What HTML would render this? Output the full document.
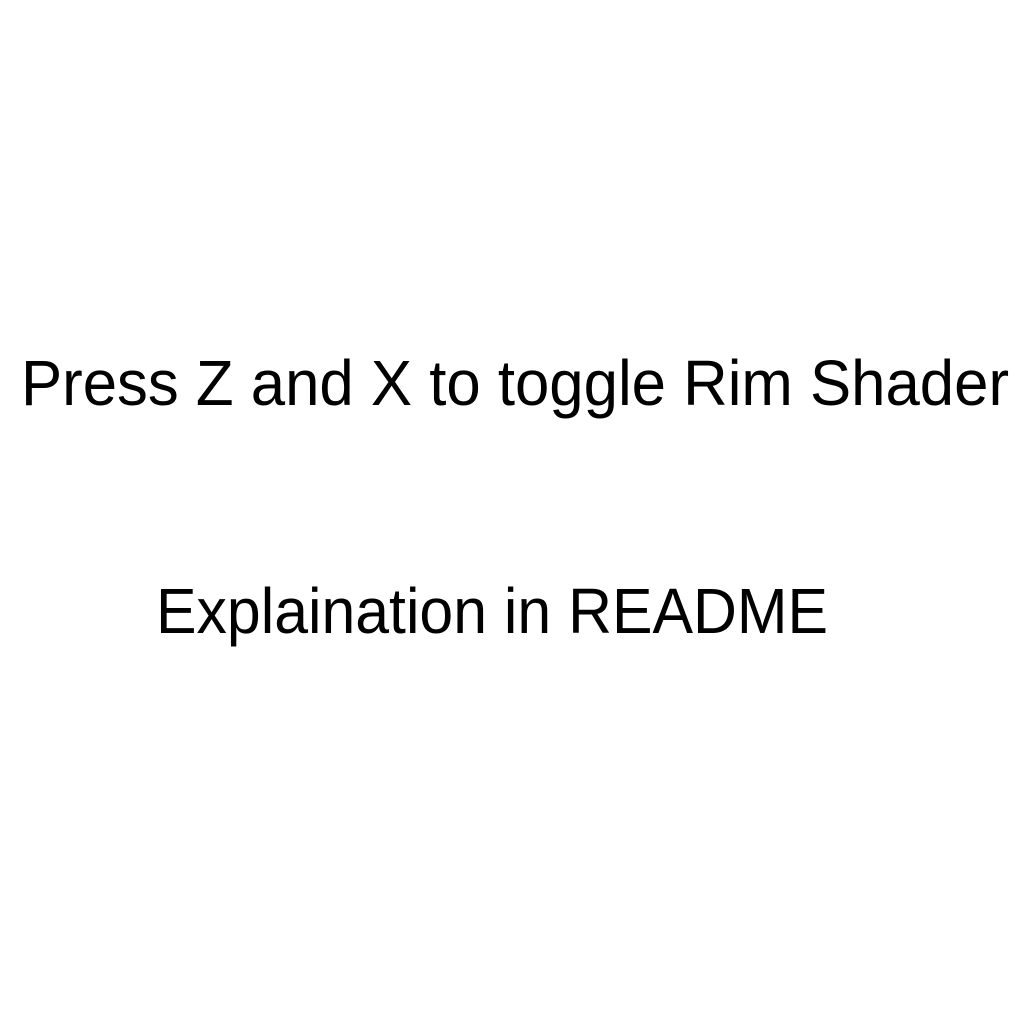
<!DOCTYPE html>
<html><head><meta charset="utf-8"><style>
html,body{margin:0;padding:0;background:#fff;width:1024px;height:1024px;overflow:hidden}
</style></head><body>
<svg width="1024" height="1024" xmlns="http://www.w3.org/2000/svg">
<rect width="1024" height="1024" fill="#fff"/>
<text x="21" y="405" font-family="Liberation Sans, sans-serif" font-size="64" fill="#000" textLength="988" lengthAdjust="spacingAndGlyphs">Press Z and X to toggle Rim Shader</text>
<text x="156" y="633" font-family="Liberation Sans, sans-serif" font-size="64" fill="#000" textLength="672" lengthAdjust="spacingAndGlyphs">Explaination in README</text>
</svg>
</body></html>
